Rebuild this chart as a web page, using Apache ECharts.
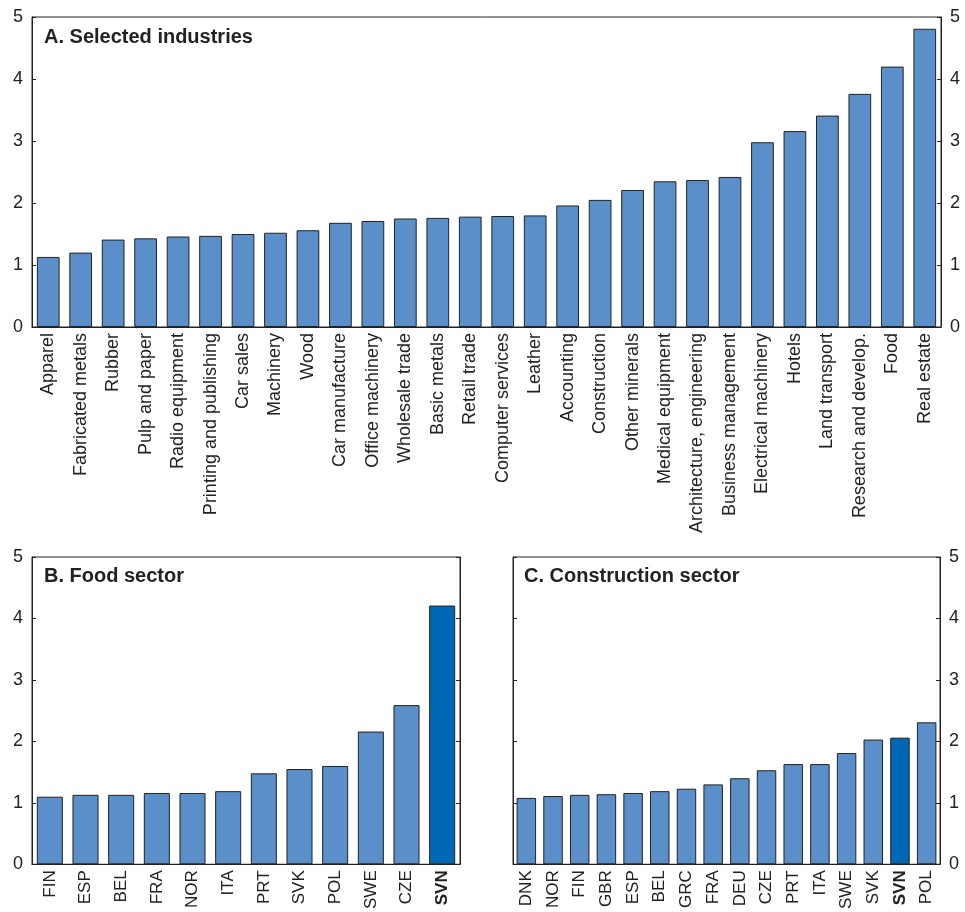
<!DOCTYPE html>
<html>
<head>
<meta charset="utf-8">
<script src="https://cdn.jsdelivr.net/npm/echarts@6/dist/echarts.min.js"></script>
<style>
  html, body { margin: 0; padding: 0; background: #fff; }
  #main { width: 965px; height: 912px; }
</style>
</head>
<body>
<div id="main"></div>
<script>
// Panel A
const industries = ['Apparel', 'Fabricated metals', 'Rubber', 'Pulp and paper', 'Radio equipment',
  'Printing and publishing', 'Car sales', 'Machinery', 'Wood', 'Car manufacture', 'Office machinery',
  'Wholesale trade', 'Basic metals', 'Retail trade', 'Computer services', 'Leather', 'Accounting',
  'Construction', 'Other minerals', 'Medical equipment', 'Architecture, engineering',
  'Business management', 'Electrical machinery', 'Hotels', 'Land transport', 'Research and develop.',
  'Food', 'Real estate'];
const industryValues = [1.13, 1.20, 1.41, 1.43, 1.46, 1.47, 1.50, 1.52, 1.56, 1.68, 1.71, 1.75, 1.76,
  1.78, 1.79, 1.80, 1.96, 2.05, 2.21, 2.35, 2.37, 2.42, 2.98, 3.16, 3.41, 3.76, 4.20, 4.81];

// Panel B
const foodCountries = ['FIN', 'ESP', 'BEL', 'FRA', 'NOR', 'ITA', 'PRT', 'SVK', 'POL', 'SWE', 'CZE', 'SVN'];
const foodValues = [1.10, 1.13, 1.13, 1.16, 1.16, 1.19, 1.48, 1.55, 1.60, 2.16, 2.59, 4.21];

// Panel C
const constrCountries = ['DNK', 'NOR', 'FIN', 'GBR', 'ESP', 'BEL', 'GRC', 'FRA', 'DEU', 'CZE', 'PRT',
  'ITA', 'SWE', 'SVK', 'SVN', 'POL'];
const constrValues = [1.08, 1.11, 1.13, 1.14, 1.16, 1.19, 1.23, 1.30, 1.40, 1.53, 1.63, 1.63, 1.81,
  2.03, 2.06, 2.31];

const yTicks = [0, 1, 2, 3, 4, 5];
const highlight = 'SVN';

const FONT = '"Liberation Sans", Arial, Helvetica, sans-serif';
const barColor = '#5b8fc9';
const hiColor = '#0068b4';
const ink = '#222';

const chart = echarts.init(document.getElementById('main'), null, { renderer: 'canvas' });

function catAxis(gridIndex, cats, size) {
  return {
    type: 'category',
    gridIndex: gridIndex,
    data: cats.map(c => c === highlight ? { value: c, textStyle: { fontWeight: 'bold' } } : c),
    axisLine: { show: true, lineStyle: { color: ink, width: 1 } },
    axisTick: { show: false },
    axisLabel: { rotate: 90, fontSize: size, color: ink, fontFamily: FONT, margin: 6, interval: 0 }
  };
}

function valAxis(gridIndex, position, showLabels) {
  return {
    type: 'value',
    gridIndex: gridIndex,
    position: position,
    min: yTicks[0],
    max: yTicks[yTicks.length - 1],
    interval: 1,
    splitLine: { show: false },
    axisLine: { show: true, lineStyle: { color: ink, width: 1 } },
    axisTick: { show: true, inside: true, length: 4, lineStyle: { color: ink } },
    axisLabel: { show: showLabels, fontSize: 18, color: ink, fontFamily: FONT, margin: 9 }
  };
}

function barSeries(axisIdx, cats, vals, gap) {
  return {
    type: 'bar',
    xAxisIndex: axisIdx,
    yAxisIndex: axisIdx * 2,
    barCategoryGap: gap,
    data: vals.map((v, i) => ({
      value: v,
      itemStyle: { color: cats[i] === highlight ? hiColor : barColor }
    })),
    itemStyle: { borderColor: ink, borderWidth: 1 },
    silent: true
  };
}

const titleStyle = { fontSize: 20, fontWeight: 'bold', color: ink, fontFamily: FONT };

const option = {
  animation: false,
  backgroundColor: '#fff',
  title: [
    { text: 'A. Selected industries', left: 44, top: 27, textStyle: titleStyle, padding: 0 },
    { text: 'B. Food sector', left: 44, top: 566, textStyle: titleStyle, padding: 0 },
    { text: 'C. Construction sector', left: 524, top: 566, textStyle: titleStyle, padding: 0 }
  ],
  grid: [
    { left: 32, top: 17, width: 909, height: 310, show: true, borderColor: ink, borderWidth: 1 },
    { left: 32, top: 557, width: 428, height: 308, show: true, borderColor: ink, borderWidth: 1 },
    { left: 513, top: 557, width: 427, height: 308, show: true, borderColor: ink, borderWidth: 1 }
  ],
  xAxis: [
    catAxis(0, industries, 18),
    catAxis(1, foodCountries, 17),
    catAxis(2, constrCountries, 17)
  ],
  yAxis: [
    valAxis(0, 'left', true),
    valAxis(0, 'right', true),
    valAxis(1, 'left', true),
    valAxis(1, 'right', false),
    valAxis(2, 'right', true),
    valAxis(2, 'left', false)
  ],
  series: [
    barSeries(0, industries, industryValues, '30%'),
    barSeries(1, foodCountries, foodValues, '27%'),
    barSeries(2, constrCountries, constrValues, '27%')
  ]
};

chart.setOption(option);
</script>
</body>
</html>
